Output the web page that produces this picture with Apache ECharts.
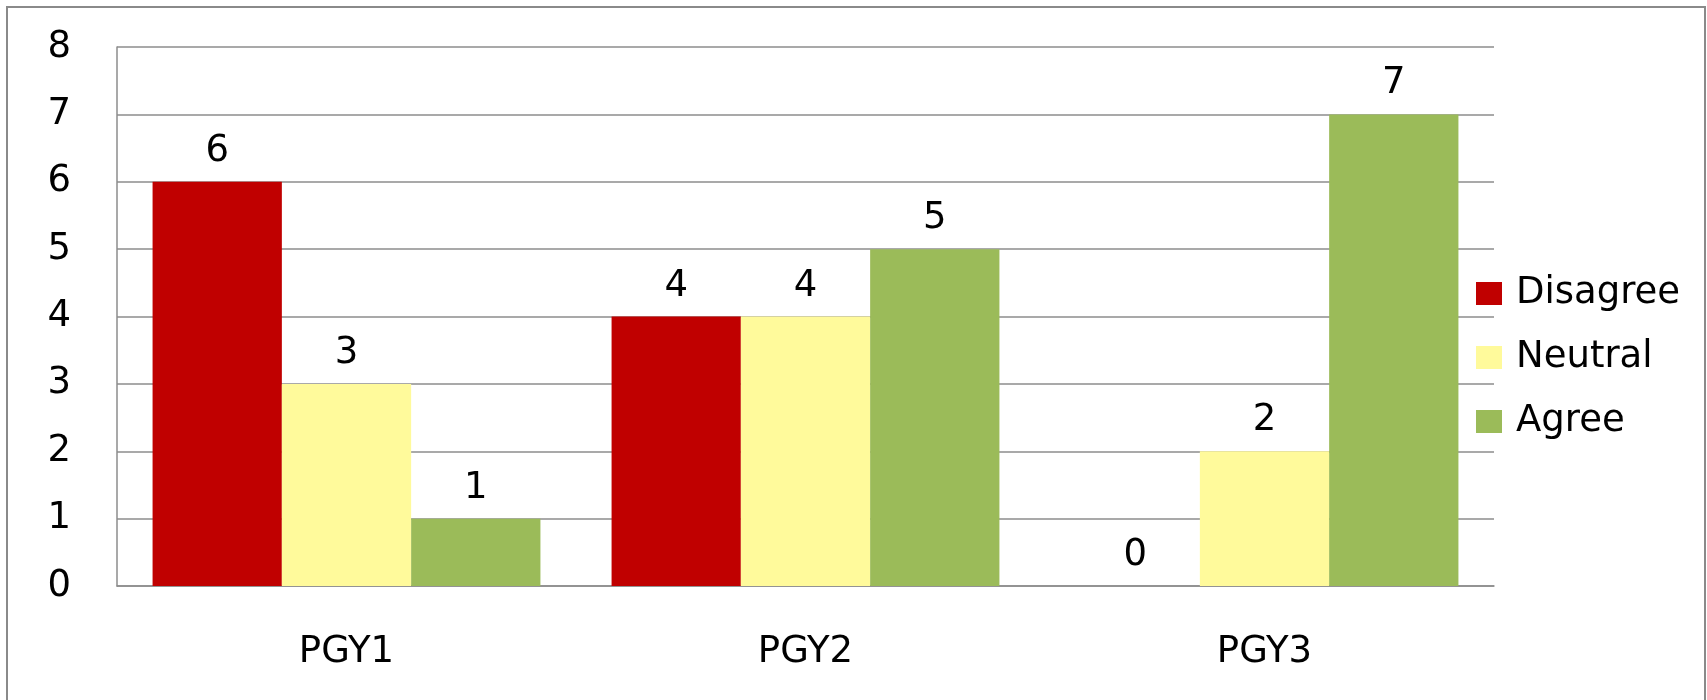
<!DOCTYPE html>
<html>
<head>
<meta charset="utf-8">
<script src="https://cdn.jsdelivr.net/npm/echarts@6/dist/echarts.min.js"></script>
<style>html,body{margin:0;padding:0;background:#fff}#c{width:1707px;height:700px}</style>
</head>
<body>
<div id="c"></div>
<script>
const categories = ['PGY1', 'PGY2', 'PGY3'];
const seriesNames = ['Disagree', 'Neutral', 'Agree'];
const disagree = [6, 4, 0];
const neutral = [3, 4, 2];
const agree = [1, 5, 7];
const yTicks = [0, 8, 1];

const colors = ['#C00000', '#FFFA9B', '#9BBB59'];
const FONT = 'DejaVu Sans';
const values = [disagree, neutral, agree];

const chart = echarts.init(document.getElementById('c'));
chart.setOption({
  animation: false,
  textStyle: { fontFamily: FONT },
  graphic: [{
    type: 'rect', shape: { x: 7, y: 7, width: 1698, height: 720 },
    style: { fill: 'none', stroke: '#8a8a8a', lineWidth: 2 }, silent: true, z: -10
  }],
  grid: { left: 117, top: 47, right: 213, bottom: 114 },
  legend: {
    orient: 'vertical', left: 1471, top: 270,
    itemWidth: 26, itemHeight: 23, itemGap: 27,
    icon: 'rect',
    textStyle: { fontSize: 37, color: '#000', fontFamily: FONT, padding: [0, 0, 0, 9] },
    data: seriesNames
  },
  xAxis: {
    type: 'category', data: categories,
    axisLine: { lineStyle: { color: '#8c8c8c', width: 1.5 } },
    axisTick: { show: false },
    axisLabel: { fontSize: 37, color: '#000', margin: 48, fontFamily: FONT }
  },
  yAxis: {
    type: 'value', min: yTicks[0], max: yTicks[1], interval: yTicks[2],
    axisLine: { show: true, lineStyle: { color: '#8c8c8c', width: 1.5 } },
    axisTick: { show: false },
    splitLine: { lineStyle: { color: '#8c8c8c', width: 1.5 } },
    axisLabel: { fontSize: 37, color: '#000', margin: 46, fontFamily: FONT }
  },
  series: seriesNames.map((n, i) => ({
    name: n, type: 'bar', data: values[i],
    barGap: 0, barCategoryGap: '15.5%',
    itemStyle: { color: colors[i] },
    label: { show: true, position: 'top', distance: 12, fontSize: 37, color: '#000', fontFamily: FONT }
  }))
});
</script>
</body>
</html>
